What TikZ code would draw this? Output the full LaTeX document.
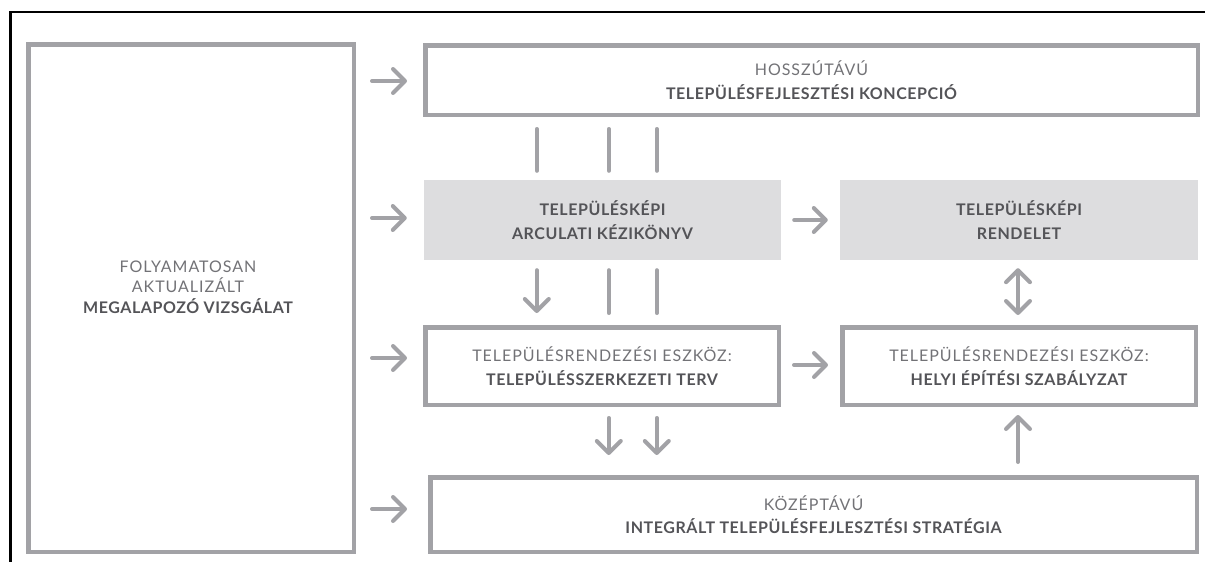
\documentclass[tikz,border=0pt]{standalone}
\usepackage{fontspec}
\setmainfont{Lato}
\newfontfamily\regfont[LetterSpace=6]{Lato}
\newfontfamily\heavyfont[LetterSpace=3.5]{Lato}
\usetikzlibrary{arrows.meta,calc}

\definecolor{linegray}{HTML}{A2A2A6}
\definecolor{fillgray}{HTML}{DDDDDF}
\definecolor{txtlite}{HTML}{727276}
\definecolor{txtdark}{HTML}{545458}

\newcommand\regline[1]{{\regfont\color{txtlite}#1}}
\newcommand\boldline[1]{{\heavyfont\bfseries\color{txtdark}#1}}

\tikzset{
  boxtext/.style={inner sep=0pt, align=center, font=\fontsize{16}{23.5}\selectfont},
  frame/.style={boxtext, draw=linegray, line width=4.5pt},
  shaded/.style={boxtext, fill=fillgray},
  lnk/.style={draw=linegray, line width=4pt, line cap=round},
  arr/.style={lnk, -{Straight Barb[length=12pt, width=24pt, round]}},
  dblarr/.style={lnk, {Straight Barb[length=12pt, width=24pt, round]}-{Straight Barb[length=12pt, width=24pt, round]}},
}

\begin{document}
\begin{tikzpicture}[x=1pt, y=-1pt]
\useasboundingbox (0,0) rectangle (1205,562);

% page frame: top and left rule
\draw[line width=2.5pt] (1205,12.2) -- (10.3,12.2) -- (10.3,562);

% boxes (sizes are outer dimensions minus the stroke)
\node[frame, minimum width=325.5pt, minimum height=507.5pt] (left) at (191,298) {};
\node[boxtext, font=\fontsize{16}{20.5}\selectfont] (lefttext) at ($(left.center)+(-3,-11)$)
  {\regline{FOLYAMATOSAN}\\\regline{AKTUALIZÁLT}\\\boldline{MEGALAPOZÓ VIZSGÁLAT}};
\node[frame, minimum width=772.5pt, minimum height=69.5pt] (top) at (811.5,80)
  {\regline{HOSSZÚTÁVÚ}\\\boldline{TELEPÜLÉSFEJLESZTÉSI KONCEPCIÓ}};
\node[shaded, minimum width=357pt, minimum height=80pt] (arc) at (602.5,220)
  {\boldline{TELEPÜLÉSKÉPI}\\\boldline{ARCULATI KÉZIKÖNYV}};
\node[shaded, minimum width=358pt, minimum height=80pt] (rend) at (1019,220)
  {\boldline{TELEPÜLÉSKÉPI}\\\boldline{RENDELET}};
\node[frame, minimum width=353.5pt, minimum height=77.5pt] (tszt) at (602,366)
  {\regline{TELEPÜLÉSRENDEZÉSI ESZKÖZ:}\\\boldline{TELEPÜLÉSSZERKEZETI TERV}};
\node[frame, minimum width=353.5pt, minimum height=77.5pt] (hesz) at (1019,366)
  {\regline{TELEPÜLÉSRENDEZÉSI ESZKÖZ:}\\\boldline{HELYI ÉPÍTÉSI SZABÁLYZAT}};
\node[frame, minimum width=766.5pt, minimum height=74.5pt] (ites) at (813.5,514.5)
  {\regline{KÖZÉPTÁVÚ}\\\boldline{INTEGRÁLT TELEPÜLÉSFEJLESZTÉSI STRATÉGIA}};

% arrows out of the left box
\draw[arr] ($(left.east |- 0,81)+(16,0)$) -- ($(top.west |- 0,81)+(-16,0)$);
\draw[arr] ($(left.east |- 0,218)+(16,0)$) -- ($(arc.west |- 0,218)+(-17,0)$);
\draw[arr] ($(left.east |- 0,358)+(16,0)$) -- ($(tszt.west |- 0,358)+(-16,0)$);
\draw[arr] ($(left.east |- 0,509)+(16,0)$) -- ($(ites.west |- 0,509)+(-21,0)$);

% arrows between the two columns
\draw[arr] ($(arc.east)+(13,0)$) -- ($(rend.west)+(-12,0)$);
\draw[arr] ($(tszt.east |- 0,365)+(13,0)$) -- ($(hesz.west |- 0,365)+(-12,0)$);

% links from the concept down to the handbook
\draw[lnk] ($(top.south -| arc.west)+(113,12)$) -- ($(arc.north west)+(113,-9)$);
\draw[lnk] ($(top.south -| arc.west)+(185,12)$) -- ($(arc.north west)+(185,-9)$);
\draw[lnk] ($(top.south -| arc.west)+(233,12)$) -- ($(arc.north west)+(233,-9)$);

% links from the handbook down to the structure plan
\draw[arr] ($(arc.south west)+(113,10)$) -- ($(tszt.north -| arc.west)+(113,-12)$);
\draw[lnk] ($(arc.south west)+(185,10)$) -- ($(tszt.north -| arc.west)+(185,-12)$);
\draw[lnk] ($(arc.south west)+(233,10)$) -- ($(tszt.north -| arc.west)+(233,-12)$);

% structure plan down to the strategy
\draw[arr] ($(tszt.south -| arc.west)+(185,11)$) -- ($(ites.north -| arc.west)+(185,-20)$);
\draw[arr] ($(tszt.south -| arc.west)+(233,11)$) -- ($(ites.north -| arc.west)+(233,-20)$);

% right column
\draw[dblarr] ($(rend.south)+(-1,8)$) -- ($(hesz.north)+(-1,-10)$);
\draw[arr] ($(ites.north -| hesz.south)+(-1,-13)$) -- ($(hesz.south)+(-1,8)$);
\end{tikzpicture}
\end{document}
